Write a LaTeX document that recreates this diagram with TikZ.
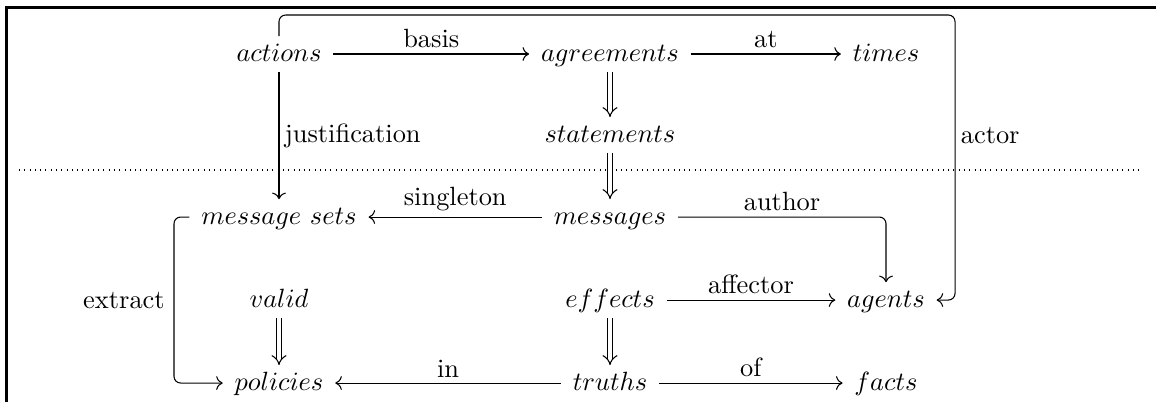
\documentclass[tikz,border=0pt]{standalone}
\usetikzlibrary{arrows.meta}
\begin{document}
\begin{tikzpicture}[every node/.style={rectangle}, >={To}, line width=.4pt,
	obj/.style={inner xsep=1ex, inner ysep=2.8pt, text height=1.5ex, text depth=.25ex},
	lbl/.style={inner sep=2pt},
	impl/.style={double, double distance=1.6pt, -{Implies}}]
	\useasboundingbox (0,0) rectangle (15.392,5.353);
	\draw[line width=.8pt] (0.087,0) -- (0.087,5.253) -- (15.392,5.253);
	\draw[line width=1pt, dash pattern=on .35pt off 1.65pt] (0.253,3.089) -- (15.206,3.089);
	\node[obj] (actions) at (3.715,4.634) {$actions$};
	\node[obj] (agreements) at (8.122,4.634) {$agreements$};
	\node[obj] (times) at (11.797,4.634) {$times$};
	\node[obj] (statements) at (8.122,3.555) {$statements$};
	\node[obj] (msgSets) at (3.715,2.463) {$message\ sets$};
	\node[obj] (messages) at (8.122,2.463) {$messages$};
	\node[obj] (valid) at (3.715,1.358) {$valid$};
	\node[obj] (effects) at (8.122,1.358) {$effects$};
	\node[obj] (agents) at (11.797,1.358) {$agents$};
	\node[obj] (policies) at (3.715,0.253) {$policies$};
	\node[obj] (truths) at (8.122,0.253) {$truths$};
	\node[obj] (facts) at (11.797,0.253) {$facts$};
	\coordinate (actorTurn) at (12.716,5.153);
	\coordinate (extractTurn) at (2.317,2.463);
	\draw[->] (actions) -- node[lbl, above] (basisText) {basis} (agreements);
	\draw[->] (agreements) -- node[lbl, above] (atText) {at} (times);
	\draw[impl] (agreements) -- (statements);
	\draw[impl] (statements) -- (messages);
	\draw[->] (actions) -- node[lbl, right] (justText) {justification} (msgSets);
	\draw[->] (messages) -- node[lbl, above] (singletonText) {singleton} (msgSets);
	\draw[->, rounded corners=2.5pt] (messages) -| node[lbl, pos=.25, above] (authorText) {author} (agents);
	\draw[->, rounded corners=2.5pt] (actions) |- (actorTurn) |- (agents);
	\node[lbl, right] (actorText) at (actorTurn |- statements) {actor};
	\draw[->, rounded corners=2.5pt] (msgSets) -- (extractTurn) |- (policies);
	\node[left] (extractText) at (extractTurn |- valid) {extract};
	\draw[->] (effects) -- node[lbl, above] (affectorText) {affector} (agents);
	\draw[impl] (valid) -- (policies);
	\draw[impl] (effects) -- (truths);
	\draw[->] (truths) -- node[lbl, above] (inText) {in} (policies);
	\draw[->] (truths) -- node[lbl, above] (ofText) {of} (facts);
\end{tikzpicture}
\end{document}
